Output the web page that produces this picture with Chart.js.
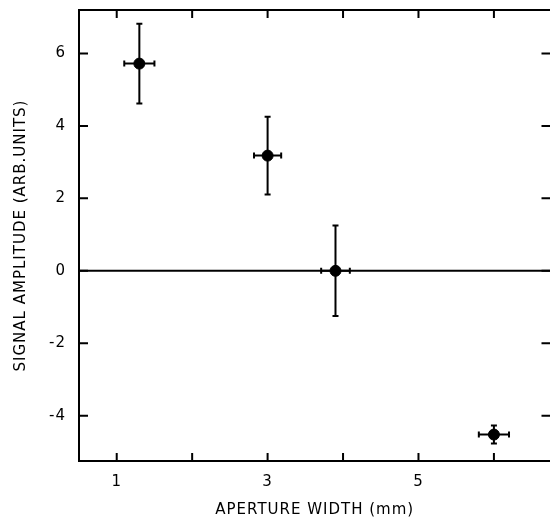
<!DOCTYPE html>
<html>
<head>
<meta charset="utf-8">
<script src="https://cdn.jsdelivr.net/npm/chart.js@4"></script>
<style>
  html, body { margin: 0; padding: 0; background: #fff; overflow: hidden; }
  #wrap { width: 557px; height: 519px; }
</style>
</head>
<body>
<div id="wrap"><canvas id="chart" width="557" height="519"></canvas></div>
<script>
// measured values
const apertureWidth = [1.3, 3.0, 3.9, 6.0];
const amplitude = [5.72, 3.18, 0.0, -4.52];
const widthErr = [0.2, 0.18, 0.19, 0.2];
const ampErr = [1.1, 1.07, 1.25, 0.25];

const xTicks = [1, 2, 3, 4, 5, 6];
const xLabels = ['1', '', '3', '', '5', ''];
const yTicks = [-4, -2, 0, 2, 4, 6];
const yLabels = ['-4', '-2', '0', '2', '4', '6'];

const fontFamily = "'DejaVu Sans', sans-serif";

// frame (right side is off the picture), inward ticks, zero line and error bars
const framePlugin = {
  id: 'frame',
  beforeDraw(chart) {
    chart.ctx.letterSpacing = '1px';
  },
  afterDatasetsDraw(chart) {
    const ctx = chart.ctx;
    const area = chart.chartArea;
    const xs = chart.scales.x;
    const ys = chart.scales.y;
    const edge = area.right;
    ctx.save();
    ctx.strokeStyle = '#000';
    ctx.lineWidth = 2;
    ctx.beginPath();
    ctx.moveTo(edge, area.top); ctx.lineTo(area.left, area.top);
    ctx.lineTo(area.left, area.bottom); ctx.lineTo(edge, area.bottom);
    xTicks.forEach(function (v) {
      const px = xs.getPixelForValue(v);
      ctx.moveTo(px, area.bottom); ctx.lineTo(px, area.bottom - 8);
      ctx.moveTo(px, area.top); ctx.lineTo(px, area.top + 8);
    });
    yTicks.forEach(function (v) {
      const py = ys.getPixelForValue(v);
      ctx.moveTo(area.left, py); ctx.lineTo(area.left + 9, py);
      ctx.moveTo(edge, py); ctx.lineTo(edge - 9, py);
    });
    ctx.stroke();

    // zero line
    ctx.beginPath();
    const y0 = ys.getPixelForValue(0);
    ctx.moveTo(area.left, y0); ctx.lineTo(edge, y0);
    ctx.stroke();

    // error bars
    for (let i = 0; i < apertureWidth.length; i++) {
      const cx = xs.getPixelForValue(apertureWidth[i]);
      const cy = ys.getPixelForValue(amplitude[i]);
      const x1 = xs.getPixelForValue(apertureWidth[i] - widthErr[i]);
      const x2 = xs.getPixelForValue(apertureWidth[i] + widthErr[i]);
      const y1 = ys.getPixelForValue(amplitude[i] + ampErr[i]);
      const y2 = ys.getPixelForValue(amplitude[i] - ampErr[i]);
      ctx.beginPath();
      ctx.moveTo(x1, cy); ctx.lineTo(x2, cy);
      ctx.moveTo(x1, cy - 3); ctx.lineTo(x1, cy + 3);
      ctx.moveTo(x2, cy - 3); ctx.lineTo(x2, cy + 3);
      ctx.moveTo(cx, y1); ctx.lineTo(cx, y2);
      ctx.moveTo(cx - 3, y1); ctx.lineTo(cx + 3, y1);
      ctx.moveTo(cx - 3, y2); ctx.lineTo(cx + 3, y2);
      ctx.stroke();
    }
    ctx.restore();
  }
};

const points = apertureWidth.map(function (x, i) {
  return { x: x, y: amplitude[i] };
});

new Chart(document.getElementById('chart'), {
  type: 'scatter',
  data: {
    datasets: [{
      data: points,
      backgroundColor: '#000',
      borderColor: '#000',
      pointRadius: 5.5,
      pointHoverRadius: 5.5
    }]
  },
  options: {
    responsive: false,
    animation: false,
    events: [],
    layout: { padding: { top: 10, right: 0, left: 0, bottom: 0 } },
    plugins: { legend: { display: false }, tooltip: { enabled: false } },
    scales: {
      x: {
        type: 'linear',
        min: 0.5,
        max: 6.75,
        grid: { display: false, drawTicks: false },
        border: { display: false },
        afterBuildTicks(scale) {
          scale.ticks = xTicks.map(function (v) { return { value: v }; });
        },
        afterFit(scale) {
          scale.height = 58;
          scale.paddingLeft = 0;
          scale.paddingRight = 0;
        },
        ticks: {
          color: '#000',
          padding: 12,
          maxRotation: 0,
          font: { family: fontFamily, size: 15 },
          callback: function (v) {
            const i = xTicks.indexOf(v);
            return i >= 0 ? xLabels[i] : '';
          }
        },
        title: {
          display: true,
          text: 'APERTURE WIDTH (mm)',
          color: '#000',
          font: { family: fontFamily, size: 15 },
          padding: { top: 10, bottom: 0 }
        }
      },
      y: {
        type: 'linear',
        min: -5.25,
        max: 7.2,
        grid: { display: false, drawTicks: false },
        border: { display: false },
        afterBuildTicks(scale) {
          scale.ticks = yTicks.map(function (v) { return { value: v }; });
        },
        afterFit(scale) {
          scale.width = 79;
          scale.paddingTop = 0;
          scale.paddingBottom = 0;
        },
        ticks: {
          color: '#000',
          padding: 13,
          font: { family: fontFamily, size: 15 },
          callback: function (v) {
            const i = yTicks.indexOf(v);
            return i >= 0 ? yLabels[i] : '';
          }
        },
        title: {
          display: true,
          text: 'SIGNAL AMPLITUDE (ARB.UNITS)',
          color: '#000',
          font: { family: fontFamily, size: 15 },
          padding: { top: 12, bottom: 0 }
        }
      }
    }
  },
  plugins: [framePlugin]
});
</script>
</body>
</html>
